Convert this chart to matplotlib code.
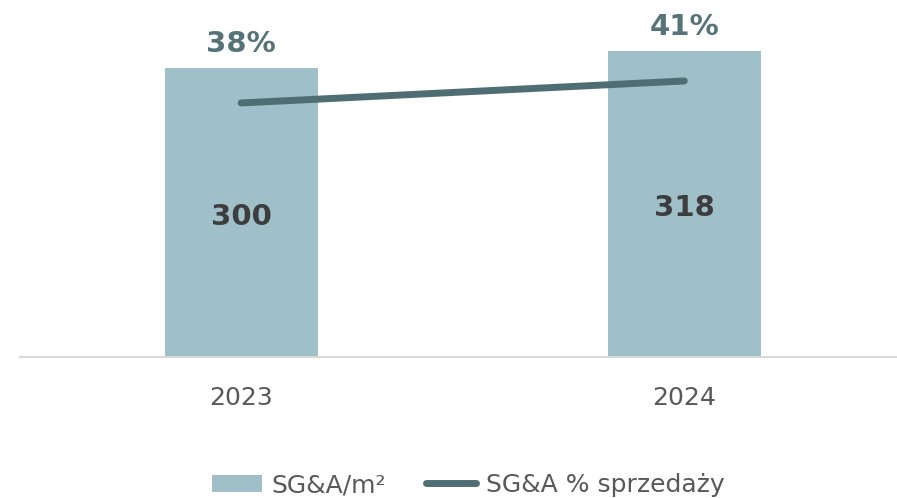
from matplotlib import pyplot as plt

years = ['2023', '2024']
sga_per_m2 = [300, 318]
sga_pct_sales = [0.38, 0.41]
pct_labels = ['38%', '41%']

bar_color = '#9FC0C9'
line_color = '#4F6E73'

plt.rcParams['font.family'] = ['DejaVu Sans']

fig = plt.figure(figsize=(8.97, 4.98), dpi=100)
ax = fig.add_axes([20 / 897, 1 - 357 / 498, 1 - 20 / 897, 357 / 498])

x = list(range(len(years)))
bars = ax.bar(x, sga_per_m2, width=0.345, color=bar_color, label='SG&A/m²', zorder=2)
ax.set_ylim(0, 370.7)
ax.set_xlim(-0.499, 1.48)

for xi, v in zip(x, sga_per_m2):
    ax.text(xi, v * 0.485, str(v), ha='center', va='center', fontsize=21,
            fontweight='bold', color='#3D3D3D', zorder=4)

for xi, v, lab in zip(x, sga_per_m2, pct_labels):
    ax.annotate(lab, (xi, v), xytext=(0, 7), textcoords='offset points',
                ha='center', va='bottom', fontsize=21, fontweight='bold',
                color='#56737A')

ax.set_xticks(x)
ax.set_xticklabels(years, fontsize=18, color='#595959')
ax.tick_params(axis='x', length=0, pad=21)
ax.set_yticks([])
for s in ['top', 'left', 'right']:
    ax.spines[s].set_visible(False)
ax.spines['bottom'].set_color('#D9D9D9')
ax.spines['bottom'].set_linewidth(1.5)

ax2 = ax.twinx()
ax2.plot(x, sga_pct_sales, color=line_color, linewidth=5, solid_capstyle='round',
         label='SG&A % sprzedaży', zorder=3)
ax2.set_ylim(0.0336, 0.5204)
ax2.set_yticks([])
for s in ['top', 'left', 'right', 'bottom']:
    ax2.spines[s].set_visible(False)

h1, l1 = ax.get_legend_handles_labels()
h2, l2 = ax2.get_legend_handles_labels()
fig.legend(h1 + h2, l1 + l2, loc='center', bbox_to_anchor=(0.522, 1 - 485 / 498),
           ncol=2, frameon=False, fontsize=18, handlelength=2, handletextpad=0.4,
           columnspacing=1.6, labelcolor='#595959')

plt.savefig('out.png', dpi=100)
